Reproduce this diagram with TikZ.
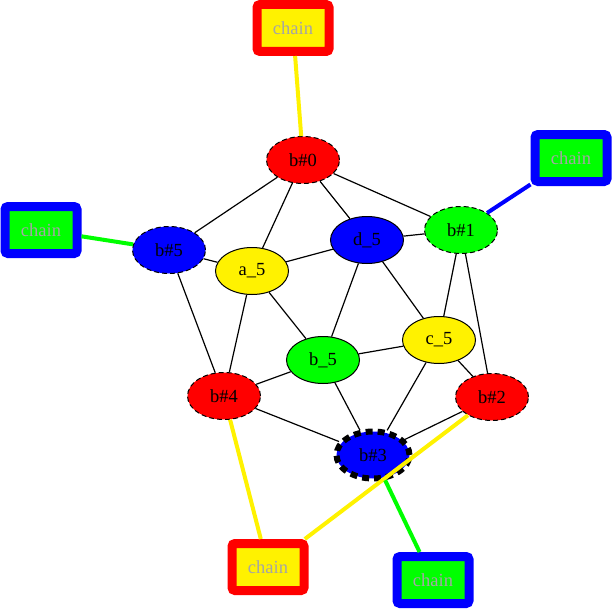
\documentclass[tikz,border=0pt]{standalone}
\usepackage{fontspec}
\setmainfont{Liberation Serif}
\usetikzlibrary{shapes.geometric}
\definecolor{chaintext}{RGB}{165,165,165}

\begin{document}
\begin{tikzpicture}[x=1pt,y=-1pt,
every node/.style={font=\fontsize{18.5}{20}\selectfont},
blob/.style={ellipse,draw,line width=1pt,minimum width=73pt,minimum height=47pt,inner sep=0pt},
dashblob/.style={blob,dash pattern=on 5pt off 3pt},
chainbox/.style={rectangle,draw,line width=9pt,rounded corners=3pt,minimum width=72pt,minimum height=47pt,inner sep=0pt,text=chaintext},
link/.style={line width=1.2pt}]
\useasboundingbox (0,0) rectangle (613,610);
\node[dashblob,fill=red] (B0) at (303,160) {b\#0};
\node[dashblob,fill=green] (B1) at (461,230) {b\#1};
\node[dashblob,fill=red] (B2) at (492,397) {b\#2};
\node[blob,fill=blue,line width=6pt,dash pattern=on 7pt off 5pt] (B3) at (373,455) {b\#3};
\node[dashblob,fill=red] (B4) at (224,396) {b\#4};
\node[dashblob,fill=blue] (B5) at (169,250) {b\#5};
\node[blob,fill=yellow] (A5) at (252,271) {a\_5};
\node[blob,fill=green] (Bb5) at (323,360) {b\_5};
\node[blob,fill=yellow] (C5) at (439,340) {c\_5};
\node[blob,fill=blue] (D5) at (367,240) {d\_5};
\node[chainbox,draw=red,fill=yellow] (Ch0) at (293,28) {chain};
\node[chainbox,draw=blue,fill=green] (Ch1) at (571,158) {chain};
\node[chainbox,draw=blue,fill=green] (Ch5) at (41,230) {chain};
\node[chainbox,draw=red,fill=yellow] (Ch4) at (268,567) {chain};
\node[chainbox,draw=blue,fill=green] (Ch3) at (433,580) {chain};
\draw[link] (B0)--(B5) (B0)--(A5) (B0)--(D5) (B0)--(B1);
\draw[link] (B5)--(A5) (B5)--(B4);
\draw[link] (A5)--(D5) (A5)--(Bb5) (A5)--(B4);
\draw[link] (D5)--(B1) (D5)--(Bb5) (D5)--(C5);
\draw[link] (B1)--(C5) (B1)--(B2);
\draw[link] (C5)--(Bb5) (C5)--(B2) (C5)--(B3);
\draw[link] (Bb5)--(B4) (Bb5)--(B3);
\draw[link] (B4)--(B3) (B2)--(B3);
\draw[line width=4pt,yellow] (Ch0)--(B0);
\draw[line width=4pt,blue] (Ch1)--(B1);
\draw[line width=4pt,green] (Ch5)--(B5);
\draw[line width=4pt,yellow] (B4)--(Ch4);
\draw[line width=4pt,yellow] (B2)--(Ch4);
\draw[line width=4pt,green] (B3)--(Ch3);
\end{tikzpicture}
\end{document}
